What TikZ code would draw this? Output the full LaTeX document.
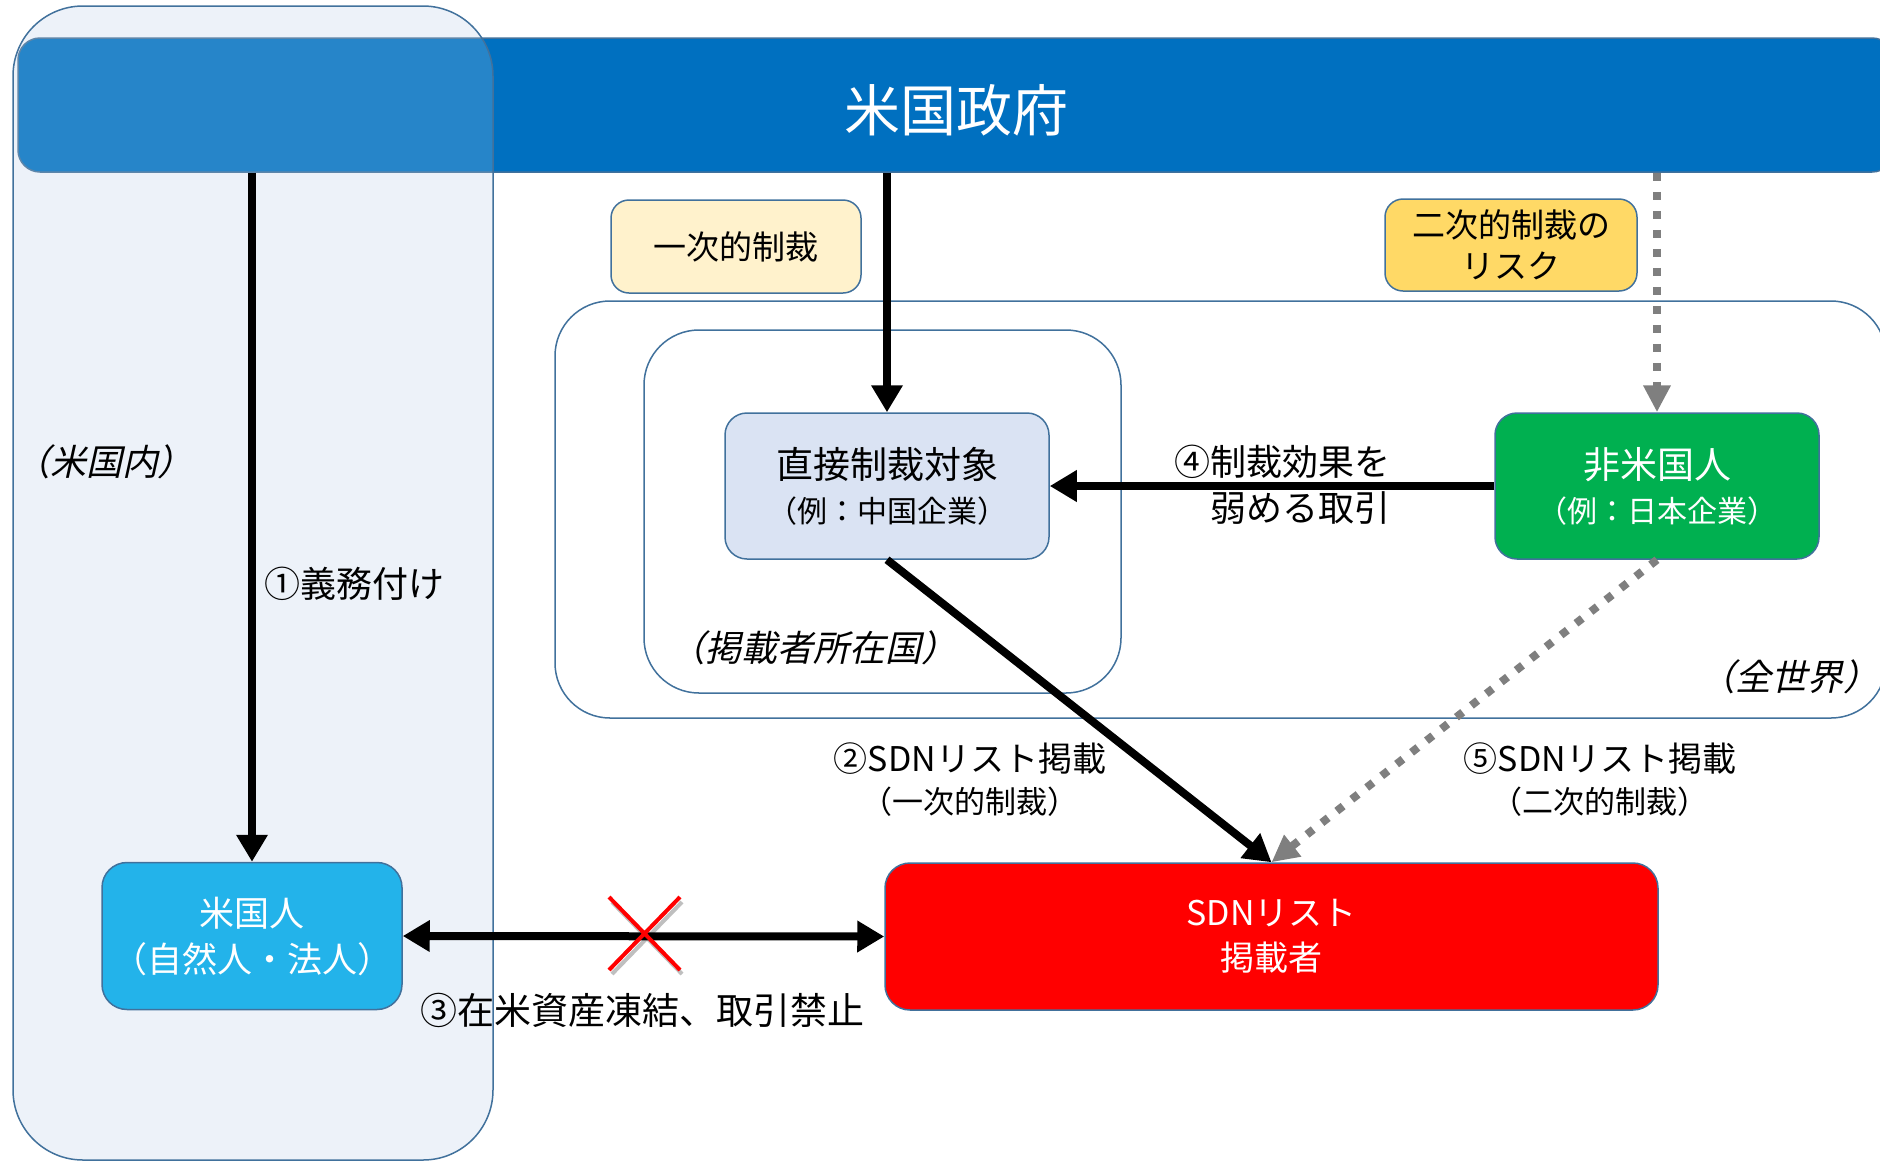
\documentclass[tikz,border=0pt]{standalone}
\usepackage{fontspec}
\setmainfont{Noto Sans CJK JP}
\newfontfamily\jpit[FakeSlant=0.22]{Noto Sans CJK JP}
\usetikzlibrary{arrows.meta}
\definecolor{edge}{HTML}{41719C}
\definecolor{govblue}{HTML}{0070C0}
\definecolor{leftfill}{HTML}{EBF0F9}
\definecolor{usblue}{HTML}{23B3EA}
\definecolor{sdnred}{HTML}{FF0000}
\definecolor{dirblue}{HTML}{DAE3F3}
\definecolor{nongreen}{HTML}{00B050}
\definecolor{primyellow}{HTML}{FFF2CC}
\definecolor{secyellow}{HTML}{FFD966}
\definecolor{graydot}{HTML}{7F7F7F}
\begin{document}
\begin{tikzpicture}[x=1pt,y=-1pt,
  box/.style={draw=edge, line width=1.5pt, rounded corners=22pt, align=center, inner sep=0pt},
  region/.style={draw=edge, line width=1.5pt, inner sep=0pt},
  lbl/.style={inner sep=0pt, align=center},
  blk/.style={line width=8pt, -{Triangle[length=27pt,width=30pt]}},
  gry/.style={draw=graydot, line width=8pt, dash pattern=on 8pt off 11pt, -{Triangle[length=27pt,width=26pt]}},
  ital/.style={font=\jpit\fontsize{36}{40}\selectfont, inner sep=0pt}
]
\useasboundingbox (0,0) rectangle (1880,1163);
\clip (0,0) rectangle (1880,1163);

% US region background
\path[fill=leftfill, rounded corners=70pt] (13,6) rectangle (493,1160);

% government bar
\node[region, fill=govblue, rounded corners=22pt, minimum width=1876pt, minimum height=134pt] (gov) at (956,105) {};
\node[lbl, text=white, font=\fontsize{56}{60}\selectfont] (govtitle) at (956,110) {米国政府};

% US region overlay and border
\node[region, fill=white, fill opacity=0.15, rounded corners=70pt,
      minimum width=480pt, minimum height=1154pt] (usarea) at (253,583) {};

% world and country regions
\node[region, rounded corners=55pt, minimum width=1331pt, minimum height=417pt] (world) at (1220.5,509.5) {};
\node[region, rounded corners=55pt, minimum width=477pt, minimum height=363pt] (ctry) at (882.5,511.5) {};

% boxes
\node[box, fill=usblue, text=white, minimum width=300pt, minimum height=147pt, rounded corners=25pt,
      font=\fontsize{35}{46}\selectfont] (usp) at (252,936) {米国人\\（自然人・法人）};
\node[box, fill=sdnred, text=white, minimum width=773pt, minimum height=147pt, rounded corners=25pt,
      font=\fontsize{34}{45}\selectfont] (sdn) at (1271.5,936.5) {SDNリスト\\掲載者};
\node[box, fill=dirblue, minimum width=324pt, minimum height=146pt,
      font=\fontsize{30}{44}\selectfont] (direct) at (887,486) {{\fontsize{37}{44}\selectfont 直接制裁対象}\\（例：中国企業）};
\node[box, fill=nongreen, text=white, minimum width=324pt, minimum height=146pt,
      font=\fontsize{30}{44}\selectfont] (nonus) at (1657,486) {{\fontsize{37}{44}\selectfont 非米国人}\\（例：日本企業）};
\node[box, fill=primyellow, minimum width=250pt, minimum height=93pt, rounded corners=18pt,
      font=\fontsize{33}{40}\selectfont] (prim) at (736,246.5) {一次的制裁};
\node[box, fill=secyellow, minimum width=252pt, minimum height=92pt, rounded corners=18pt,
      font=\fontsize{33}{41}\selectfont] (sec) at (1511,245) {二次的制裁の\\リスク};

% connectors
\draw[blk] (gov.south -| usp.north) -- (usp.north);
\draw[blk] (gov.south -| direct.north) -- (direct.north);
\draw[gry] (gov.south -| nonus.north) -- (nonus.north);
\draw[blk] (nonus.west) -- (direct.east);
\draw[blk] (direct.south) -- (sdn.north);
\draw[gry] (nonus.south) -- (sdn.north);
\draw[line width=8pt, {Triangle[length=27pt,width=30pt]}-{Triangle[length=27pt,width=30pt]}] (usp.east) -- (sdn.west);

% red cross
\coordinate (xm) at (644,933);
\draw[black, opacity=0.25, line width=4pt] (xm) ++(-34,-34) ++(2,3) -- ++(70,72) (xm) ++(36,-34) ++(2,3) -- ++(-70,72);
\draw[red, line width=4pt] (xm) ++(-35,-36) -- ++(71,73) (xm) ++(36,-36) -- ++(-71,73);

% labels
\node[lbl, font=\fontsize{36}{40}\selectfont, anchor=west] (l1) at (264,584) {①義務付け};
\node[lbl, font=\fontsize{37}{40}\selectfont] (l3) at (642,1010) {③在米資産凍結、取引禁止};
\node[lbl, font=\fontsize{36}{46}\selectfont] (l4) at (1282,485) {④制裁効果を\\\hspace*{36pt}弱める取引};
\node[lbl, font=\fontsize{31}{42}\selectfont] (l2) at (970,780) {{\fontsize{34}{42}\selectfont ②SDNリスト掲載}\\（一次的制裁）};
\node[lbl, font=\fontsize{31}{42}\selectfont] (l5) at (1600,780) {{\fontsize{34}{42}\selectfont ⑤SDNリスト掲載}\\（二次的制裁）};
\node[ital] (t1) at (104,462) {（米国内）};
\node[ital] (t2) at (813,648) {（掲載者所在国）};
\node[ital, anchor=east] (t3) at (1880,677) {（全世界）};
\end{tikzpicture}
\end{document}
